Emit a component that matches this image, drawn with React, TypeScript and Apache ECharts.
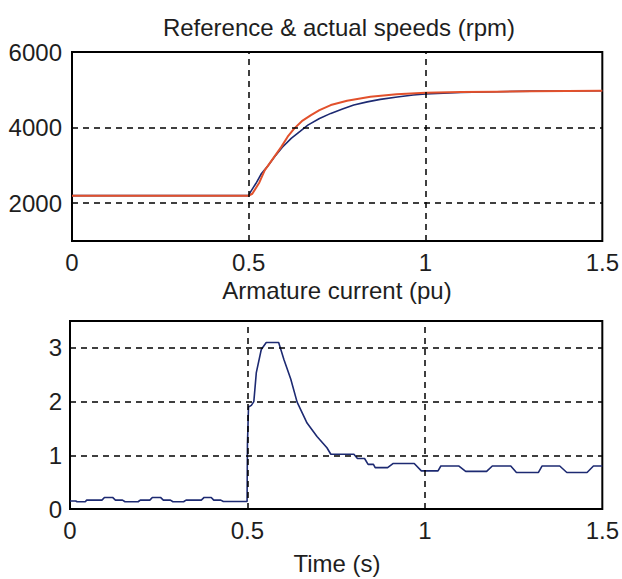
import React, { useEffect, useRef } from "react";
import * as echarts from "echarts";

// Top plot: speeds (rpm)
const refTime = [0, 0.5, 0.51, 0.53, 0.545, 0.57, 0.592, 0.61, 0.629, 0.65, 0.676, 0.7, 0.732, 0.778, 0.844, 0.918, 1.0, 1.1, 1.2, 1.3, 1.4, 1.5];
const refSpeed = [2200, 2200, 2250, 2550, 2870, 3200, 3490, 3760, 3980, 4170, 4330, 4460, 4596, 4710, 4816, 4880, 4920, 4940, 4950, 4960, 4970, 4975];
const actTime = [0, 0.5, 0.505, 0.52, 0.536, 0.555, 0.573, 0.595, 0.62, 0.645, 0.667, 0.7, 0.732, 0.765, 0.797, 0.835, 0.872, 0.92, 0.965, 1.0, 1.1, 1.2, 1.3, 1.4, 1.5];
const actSpeed = [2200, 2200, 2300, 2520, 2786, 3000, 3227, 3480, 3714, 3900, 4066, 4240, 4376, 4490, 4596, 4680, 4747, 4810, 4861, 4890, 4930, 4950, 4965, 4970, 4975];

// Bottom plot: armature current (pu)
const curTime = [
  0, 0.016, 0.02, 0.043, 0.047, 0.09, 0.097, 0.12, 0.128, 0.148, 0.155, 0.192, 0.198, 0.225, 0.232, 0.255, 0.263, 0.283,
  0.29, 0.32, 0.327, 0.37, 0.378, 0.398, 0.405, 0.425, 0.432, 0.499,
  0.5, 0.503, 0.511, 0.518, 0.525, 0.539, 0.553, 0.588, 0.603, 0.622, 0.64, 0.668, 0.696, 0.724,
  0.735, 0.8, 0.81, 0.83, 0.84, 0.855, 0.86, 0.895, 0.91, 0.97, 0.99, 1.037, 1.045, 1.096, 1.115, 1.174,
  1.19, 1.242, 1.258, 1.32, 1.33, 1.38, 1.4, 1.457, 1.475, 1.5,
];
const curVal = [
  0.15, 0.15, 0.135, 0.135, 0.165, 0.165, 0.215, 0.215, 0.165, 0.165, 0.135, 0.135, 0.165, 0.165, 0.215, 0.215, 0.165, 0.165,
  0.135, 0.135, 0.165, 0.165, 0.215, 0.215, 0.165, 0.165, 0.14, 0.14,
  1.2, 1.9, 1.93, 2.0, 2.54, 2.97, 3.1, 3.1, 2.78, 2.42, 1.99, 1.6, 1.35, 1.14,
  1.02, 1.02, 0.94, 0.94, 0.83, 0.83, 0.77, 0.77, 0.846, 0.846, 0.71, 0.71, 0.8, 0.8, 0.7, 0.7,
  0.8, 0.8, 0.68, 0.68, 0.8, 0.8, 0.68, 0.68, 0.8, 0.8,
];

// Grid lines and labels
const xGrid = [0.5, 1.0];
const speedGrid = [2000, 4000];
const curGrid = [1, 2, 3];
const titleTop = "Reference & actual speeds (rpm)";
const titleBottom = "Armature current (pu)";
const xName = "Time (s)";

const FONT = "'Liberation Sans', Arial, sans-serif";
const TXT = "#1e1e1e";

export default function App() {
  const ref = useRef<HTMLDivElement>(null);
  useEffect(() => {
    const chart = echarts.init(ref.current!, null, { renderer: "svg" });
    const zip = (a: number[], b: number[]) => a.map((t, i) => [t, b[i]]);
    const dash = { color: "#000", width: 1.5, type: [6, 5] as any };
    const gridMarks = (ys: number[]) => ({
      silent: true,
      symbol: "none",
      label: { show: false },
      lineStyle: dash,
      data: [...xGrid.map((x) => ({ xAxis: x })), ...ys.map((y) => ({ yAxis: y }))],
    });
    const axisLbl = { color: TXT, fontFamily: FONT, fontSize: 24 };
    chart.setOption({
      animation: false,
      backgroundColor: "#fff",
      graphic: [
        { type: "text", x: 339, y: 27, style: { text: titleTop, fill: TXT, font: `24px ${FONT}`, textAlign: "center", textVerticalAlign: "middle" } },
        { type: "text", x: 337, y: 290, style: { text: titleBottom, fill: TXT, font: `24px ${FONT}`, textAlign: "center", textVerticalAlign: "middle" } },
        { type: "text", x: 337, y: 563, style: { text: xName, fill: TXT, font: `24px ${FONT}`, textAlign: "center", textVerticalAlign: "middle" } },
      ],
      grid: [
        { left: 72, top: 52, width: 534, height: 189, show: true, borderColor: "#000", borderWidth: 2, backgroundColor: "transparent" },
        { left: 70, top: 321, width: 533, height: 188, show: true, borderColor: "#000", borderWidth: 2, backgroundColor: "transparent" },
      ],
      xAxis: [0, 1].map((g) => ({
        type: "value",
        gridIndex: g,
        min: 0,
        max: 1.5,
        interval: 0.5,
        axisLine: { show: false },
        axisTick: { show: false },
        splitLine: { show: false },
        axisLabel: { ...axisLbl, margin: 9 },
      })),
      yAxis: [
        {
          type: "value",
          gridIndex: 0,
          min: 1000,
          max: 6000,
          interval: 1000,
          axisLine: { show: false },
          axisTick: { show: false },
          splitLine: { show: false },
          axisLabel: { ...axisLbl, margin: 10, formatter: (v: number) => (v % 2000 === 0 ? String(v) : "") },
        },
        {
          type: "value",
          gridIndex: 1,
          min: 0,
          max: 3.5,
          interval: 0.5,
          axisLine: { show: false },
          axisTick: { show: false },
          splitLine: { show: false },
          axisLabel: { ...axisLbl, margin: 8, formatter: (v: number) => (Number.isInteger(v) ? String(v) : "") },
        },
      ],
      series: [
        { type: "line", xAxisIndex: 0, yAxisIndex: 0, data: [], z: 1, markLine: gridMarks(speedGrid) },
        { type: "line", xAxisIndex: 1, yAxisIndex: 1, data: [], z: 1, markLine: gridMarks(curGrid) },
        {
          name: "Actual speed", type: "line", xAxisIndex: 0, yAxisIndex: 0, z: 3,
          data: zip(actTime, actSpeed), showSymbol: false, lineStyle: { color: "#1d2a72", width: 1.6 },
        },
        {
          name: "Reference speed", type: "line", xAxisIndex: 0, yAxisIndex: 0, z: 4,
          data: zip(refTime, refSpeed), showSymbol: false, lineStyle: { color: "#e2512c", width: 2 },
        },
        {
          name: "Armature current", type: "line", xAxisIndex: 1, yAxisIndex: 1, z: 3,
          data: zip(curTime, curVal), showSymbol: false, lineStyle: { color: "#1d2a72", width: 1.6 },
        },
      ],
    });
    return () => chart.dispose();
  }, []);
  return <div ref={ref} style={{ position: "fixed", left: 0, top: 0, width: 622, height: 579 }} />;
}
